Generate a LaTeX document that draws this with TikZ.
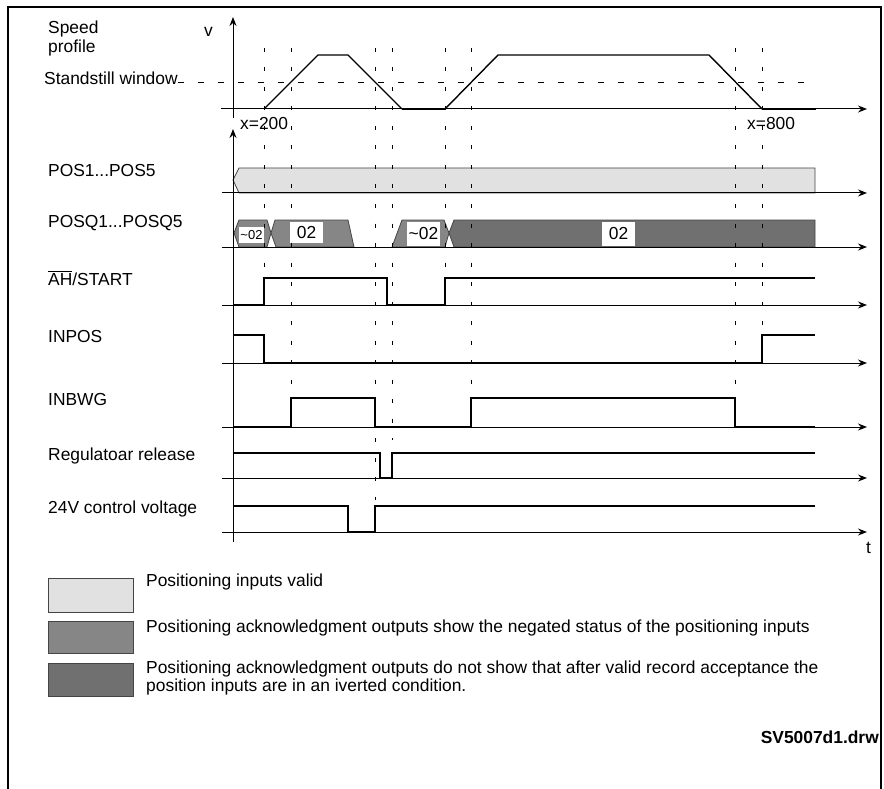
\documentclass[tikz,border=0pt]{standalone}
\usepackage{fontspec}
\setmainfont{Liberation Sans}
\usetikzlibrary{arrows.meta}
\definecolor{lightfill}{HTML}{E1E1E1}
\definecolor{midfill}{HTML}{868686}
\definecolor{darkfill}{HTML}{707070}
\definecolor{edgegray}{HTML}{454545}
\tikzset{
  lbl/.style={inner sep=0pt, anchor=base west},
  axisarrow/.style={line width=1pt, -{Stealth[length=9pt,width=7pt,inset=3pt]}},
  sig/.style={line width=1.4pt, line join=miter},
  thicksig/.style={line width=2.6pt},
  vdash/.style={line width=0.9pt, dash pattern=on 4pt off 15.5pt},
  hdash/.style={line width=0.9pt, dash pattern=on 6pt off 14pt},
  lightshape/.style={fill=lightfill, draw=edgegray, line width=0.8pt},
  midshape/.style={fill=midfill, draw=edgegray, line width=0.8pt},
  darkshape/.style={fill=darkfill, draw=edgegray, line width=0.8pt},
  valbox/.style={fill=white, inner sep=0pt, minimum width=33pt, minimum height=24pt},
}
\begin{document}
\begin{tikzpicture}[x=1pt,y=-1pt,font=\fontsize{17.4}{20}\selectfont]
\useasboundingbox (0,0) rectangle (884,789);
\draw[line width=1.6pt] (8,789) -- (8,7) -- (881,7) -- (881,789);

% ---- speed profile ----
\draw[hdash] (178,82) -- (817,82);
\draw[axisarrow] (233,118) -- (233,17);
\draw[axisarrow] (221,109) -- (867,109);
\draw[sig] (264,109) -- (318,55) -- (348,55) -- (402,109);
\draw[thicksig] (402,109) -- (445,109);
\draw[sig] (445,109) -- (498,55) -- (709,55) -- (762,109);
\draw[thicksig] (762,109) -- (816,109);

% ---- bus shapes ----
\draw[lightshape] (233,180) -- (239,168) -- (815,168) -- (815,193) -- (239,193) -- cycle;
\draw[midshape] (234,233) -- (239,220) -- (267,220) -- (271,233) -- (267,247) -- (239,247) -- cycle;
\draw[midshape] (271,233) -- (275,220) -- (348,220) -- (354,247) -- (276,247) -- cycle;
\draw[midshape] (392,247) -- (402,220) -- (444,220) -- (449,233) -- (445,247) -- cycle;
\draw[darkshape] (449,233) -- (454,220) -- (815,220) -- (815,247) -- (454,247) -- cycle;

% ---- time axis and baselines ----
\draw[axisarrow] (233,542) -- (233,129);
\foreach \y in {193,247,305,363,427,478,532} \draw[axisarrow] (222,\y) -- (867,\y);

% ---- signals ----
\draw[sig] (234,305) -- (264,305) -- (264,278) -- (387,278) -- (387,305) -- (445,305) -- (445,278) -- (815,278);
\draw[sig] (234,335) -- (264,335) -- (264,363) -- (762,363) -- (762,335) -- (815,335);
\draw[sig] (234,427) -- (291,427) -- (291,398) -- (375,398) -- (375,427) -- (471,427) -- (471,398) -- (735,398) -- (735,427) -- (815,427);
\draw[sig] (234,453) -- (380,453) -- (380,478) -- (392,478) -- (392,453) -- (815,453);
\draw[sig] (234,506) -- (348,506) -- (348,532) -- (375,532) -- (375,506) -- (815,506);

% ---- vertical dashed markers ----
\foreach \x/\e in {264/268, 291/386, 375/500, 392/440, 445/268, 471/386, 735/400, 762/330}
  \draw[vdash] (\x,48) -- (\x,\e);

% ---- values in bus shapes ----
\node[valbox, minimum width=25pt, minimum height=16pt, font=\fontsize{13}{14}\selectfont] (q1) at (251.5,235) {\textasciitilde 02};
\node[valbox, minimum height=21pt] (q2) at (306.5,232.5) {02};
\node[valbox] (q3) at (423.5,234) {\textasciitilde 02};
\node[valbox] (q4) at (618.5,234) {02};

% ---- labels ----
\node[lbl] (speed) at (48,34) {Speed};
\node[lbl] (profile) at (48,53) {profile};
\node[lbl] (vlab) at (204,37) {v};
\node[lbl] (standstill) at (44,85) {Standstill window};
\node[lbl] (x200) at (240,130) {x=200};
\node[lbl] (x800) at (747,130) {x=800};
\node[lbl] (tlab) at (866,553) {t};
\node[lbl] (pos) at (48,176) {POS1...POS5};
\node[lbl] (posq) at (48,227) {POSQ1...POSQ5};
\node[lbl] (ah) at (48,285) {$\overline{\mbox{AH}}$/START};
\node[lbl] (inpos) at (48,342) {INPOS};
\node[lbl] (inbwg) at (48,405) {INBWG};
\node[lbl] (reg) at (48,460) {Regulatoar release};
\node[lbl] (v24) at (48,513) {24V control voltage};

% ---- legend ----
\draw[lightshape] (48,578) rectangle (133,612);
\draw[midshape] (48,621) rectangle (133,653);
\draw[darkshape] (48,663) rectangle (133,696);
\node[lbl] (leg1) at (146,586) {Positioning inputs valid};
\node[lbl] (leg2) at (146,632) {Positioning acknowledgment outputs show the negated status of the positioning inputs};
\node[lbl] (leg3a) at (146,673) {Positioning acknowledgment outputs do not show that after valid record acceptance the};
\node[lbl] (leg3b) at (146,691) {position inputs are in an iverted condition.};
\node[lbl, anchor=base east, font=\fontsize{17.4}{20}\selectfont\bfseries] (drw) at (879,743) {SV5007d1.drw};
\end{tikzpicture}
\end{document}
